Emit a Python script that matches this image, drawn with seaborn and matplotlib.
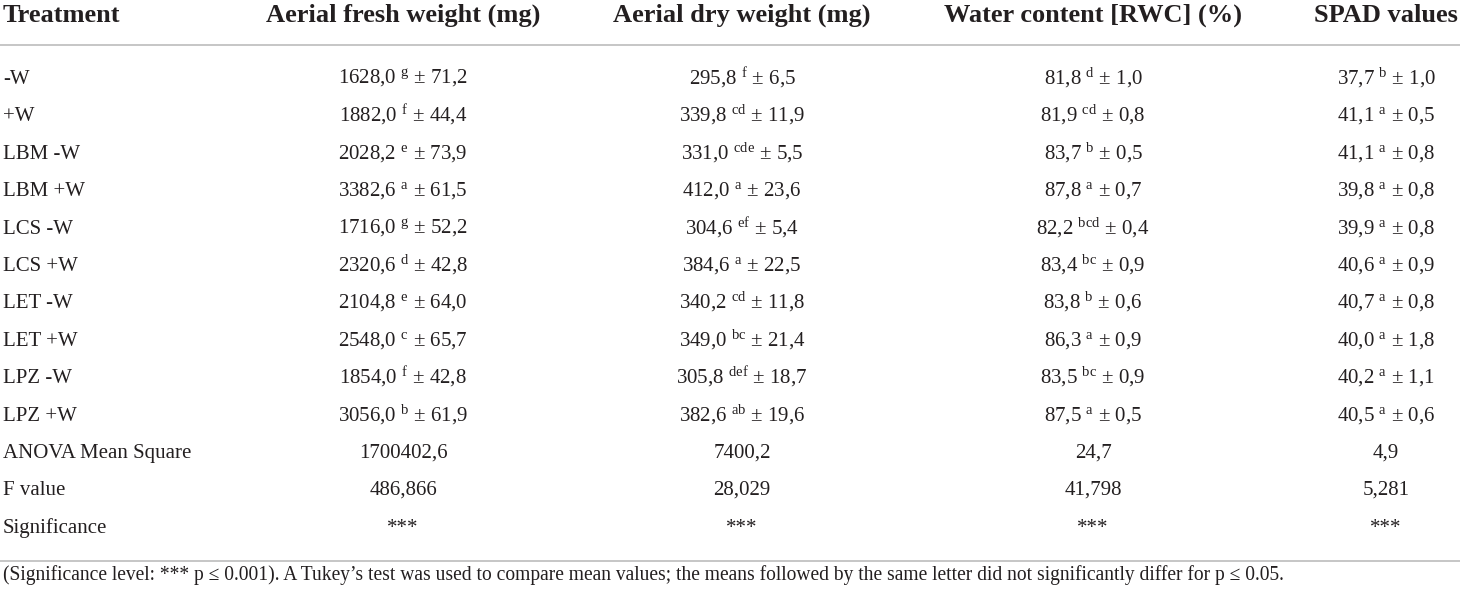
import seaborn as sns
from matplotlib import pyplot as plt

sns.set_theme(style='white')
plt.rcParams['font.family'] = ['Liberation Serif', 'DejaVu Serif']
plt.rcParams['mathtext.fontset'] = 'custom'
plt.rcParams['mathtext.rm'] = 'Liberation Serif'
plt.rcParams['mathtext.it'] = 'Liberation Serif'

headers = ['Treatment', 'Aerial fresh weight (mg)', 'Aerial dry weight (mg)',
           'Water content [RWC] (%)', 'SPAD values']
treatments = ['-W', '+W', 'LBM -W', 'LBM +W', 'LCS -W', 'LCS +W',
              'LET -W', 'LET +W', 'LPZ -W', 'LPZ +W']

fresh_mean = [1628.0, 1882.0, 2028.2, 3382.6, 1716.0, 2320.6, 2104.8, 2548.0, 1854.0, 3056.0]
fresh_sd = [71.2, 44.4, 73.9, 61.5, 52.2, 42.8, 64.0, 65.7, 42.8, 61.9]
fresh_grp = ['g', 'f', 'e', 'a', 'g', 'd', 'e', 'c', 'f', 'b']

dry_mean = [295.8, 339.8, 331.0, 412.0, 304.6, 384.6, 340.2, 349.0, 305.8, 382.6]
dry_sd = [6.5, 11.9, 5.5, 23.6, 5.4, 22.5, 11.8, 21.4, 18.7, 19.6]
dry_grp = ['f', 'cd', 'cde', 'a', 'ef', 'a', 'cd', 'bc', 'def', 'ab']

rwc_mean = [81.8, 81.9, 83.7, 87.8, 82.2, 83.4, 83.8, 86.3, 83.5, 87.5]
rwc_sd = [1.0, 0.8, 0.5, 0.7, 0.4, 0.9, 0.6, 0.9, 0.9, 0.5]
rwc_grp = ['d', 'cd', 'b', 'a', 'bcd', 'bc', 'b', 'a', 'bc', 'a']

spad_mean = [37.7, 41.1, 41.1, 39.8, 39.9, 40.6, 40.7, 40.0, 40.2, 40.5]
spad_sd = [1.0, 0.5, 0.8, 0.8, 0.8, 0.9, 0.8, 1.8, 1.1, 0.6]
spad_grp = ['b', 'a', 'a', 'a', 'a', 'a', 'a', 'a', 'a', 'a']

stat_labels = ['ANOVA Mean Square', 'F value', 'Significance']
anova_ms = ['1700402,6', '7400,2', '24,7', '4,9']
f_value = ['486,866', '28,029', '41,798', '5,281']
significance = ['***', '***', '***', '***']

footnote = ("(Significance level: *** p \u2264 0.001). A Tukey\u2019s test was used to compare mean "
            "values; the means followed by the same letter did not significantly differ for p \u2264 0.05.")

ink = '#231f20'
rule = '#c6c6c6'
body = 15


def fmt(v):
    return f'{v:.1f}'.replace('.', ',')


def cell(m, g, s):
    return f'{fmt(m)} $^{{\\mathrm{{{g}}}}}$ \u00b1 {fmt(s)}'


fig = plt.figure(figsize=(14.6, 5.94), dpi=100)
ax = fig.add_axes([0, 0, 1, 1])
ax.set_xlim(0, 1460)
ax.set_ylim(594, 0)
ax.axis('off')

col_x = [403, 742, 1093, 1386]
row0 = 84
step = 37.4

# header
ax.text(3, 22, headers[0], ha='left', va='baseline', fontsize=19,
        fontweight='bold', color=ink)
for x, h in zip(col_x, headers[1:]):
    ax.text(x, 22, h, ha='center', va='baseline', fontsize=19,
            fontweight='bold', color=ink)

ax.axhline(45, color=rule, lw=1.4)

columns = [(fresh_mean, fresh_grp, fresh_sd), (dry_mean, dry_grp, dry_sd),
           (rwc_mean, rwc_grp, rwc_sd), (spad_mean, spad_grp, spad_sd)]

for i, t in enumerate(treatments):
    y = round(row0 + step * i)
    ax.text(3, y, t, ha='left', va='baseline', fontsize=body, color=ink)
    for x, (m, g, s) in zip(col_x, columns):
        ax.text(x, y, cell(m[i], g[i], s[i]), ha='center', va='baseline',
                fontsize=body, color=ink)

for j, (lab, vals) in enumerate(zip(stat_labels, [anova_ms, f_value, significance])):
    y = round(row0 + step * (len(treatments) + j))
    ax.text(3, y, lab, ha='left', va='baseline', fontsize=body, color=ink)
    for x, v in zip(col_x, vals):
        ax.text(x, y, v, ha='center', va='baseline', fontsize=body, color=ink)

ax.axhline(561, color=rule, lw=1.4)

ax.text(3, 580, footnote, ha='left', va='baseline', fontsize=14.05, color=ink)

plt.savefig('out.png', dpi=100)
